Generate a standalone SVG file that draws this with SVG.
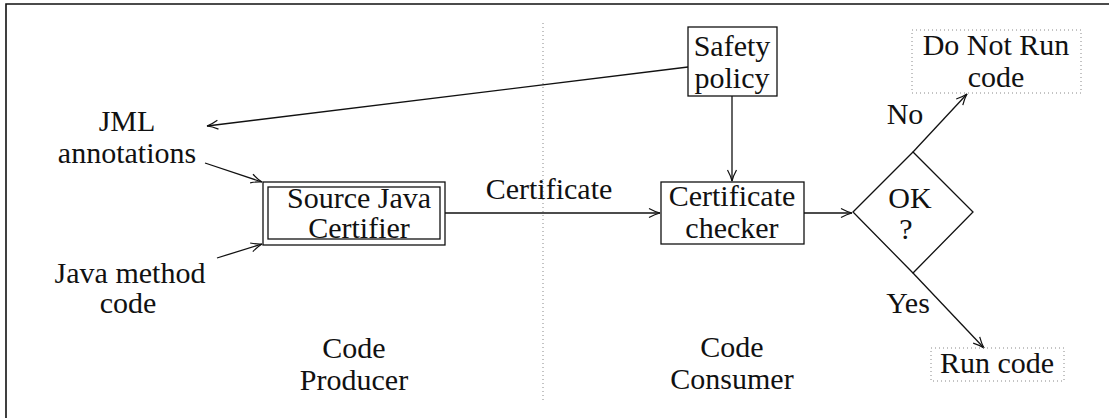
<svg xmlns="http://www.w3.org/2000/svg" width="1109" height="418" viewBox="0 0 1109 418">
<style>
text{font-family:'Liberation Serif','Times New Roman',serif;font-size:30px;fill:#111;text-anchor:middle}
.box{fill:#fff;stroke:#111;stroke-width:1.3}
.dot{fill:none;stroke:#888;stroke-width:1;stroke-dasharray:1 3}
.ln{fill:none;stroke:#111;stroke-width:1.3}
</style>
<defs>
<marker id="arr" markerWidth="14" markerHeight="12" refX="12" refY="6" orient="auto" markerUnits="userSpaceOnUse">
<path d="M1,1.5 Q7,4.8 12,6 Q7,7.2 1,10.5" fill="none" stroke="#111" stroke-width="1.2"/>
</marker>
</defs>
<rect width="1109" height="418" fill="#fff"/>
<g id="frame">
<path d="M6,418 V4 H1109" fill="none" stroke="#111" stroke-width="1.6"/>
<line x1="543" y1="23" x2="543" y2="402" stroke="#888" stroke-width="1" stroke-dasharray="1 3"/>
</g>
<g id="connectors">
<line class="ln" x1="688" y1="67" x2="207" y2="126" marker-end="url(#arr)"/>
<line class="ln" x1="205" y1="163" x2="262" y2="182" marker-end="url(#arr)"/>
<line class="ln" x1="217" y1="258" x2="262" y2="244" marker-end="url(#arr)"/>
<line class="ln" x1="445" y1="213" x2="660" y2="213" marker-end="url(#arr)"/>
<line class="ln" x1="732" y1="96" x2="732" y2="181" marker-end="url(#arr)"/>
<line class="ln" x1="804" y1="213" x2="852" y2="213" marker-end="url(#arr)"/>
<line class="ln" x1="913" y1="152" x2="967" y2="94" marker-end="url(#arr)"/>
<line class="ln" x1="913" y1="273" x2="984" y2="348" marker-end="url(#arr)"/>
<text x="549" y="199">Certificate</text>
<text x="905" y="124">No</text>
<text x="908" y="313">Yes</text>
</g>
<g id="jml">
<text x="127" y="131">JML</text>
<text x="127" y="163">annotations</text>
</g>
<g id="javacode">
<text x="130" y="283">Java method</text>
<text x="128" y="313">code</text>
</g>
<g id="certifier">
<rect class="box" x="263" y="182" width="182" height="63"/>
<rect class="box" x="268" y="187" width="172" height="52"/>
<text x="287" y="208" style="text-anchor:start">Source Java</text>
<text x="359" y="238">Certifier</text>
</g>
<g id="safety">
<rect class="box" x="688" y="27" width="89" height="69"/>
<text x="732" y="56">Safety</text>
<text x="732" y="88">policy</text>
</g>
<g id="checker">
<rect class="box" x="661" y="182" width="143" height="62"/>
<text x="732" y="206">Certificate</text>
<text x="732" y="238">checker</text>
</g>
<g id="decision">
<polygon class="box" points="853,212 913,152 973,212 913,273"/>
<text x="910" y="208">OK</text>
<text x="906" y="239">?</text>
</g>
<g id="donotrun">
<rect class="dot" x="912" y="30" width="169" height="63"/>
<text x="996" y="55">Do Not Run</text>
<text x="996" y="87">code</text>
</g>
<g id="runcode">
<rect class="dot" x="931" y="348" width="133" height="33"/>
<text x="997" y="373">Run code</text>
</g>
<g id="producer">
<text x="354" y="358">Code</text>
<text x="354" y="390">Producer</text>
</g>
<g id="consumer">
<text x="732" y="357">Code</text>
<text x="732" y="389">Consumer</text>
</g>
</svg>
